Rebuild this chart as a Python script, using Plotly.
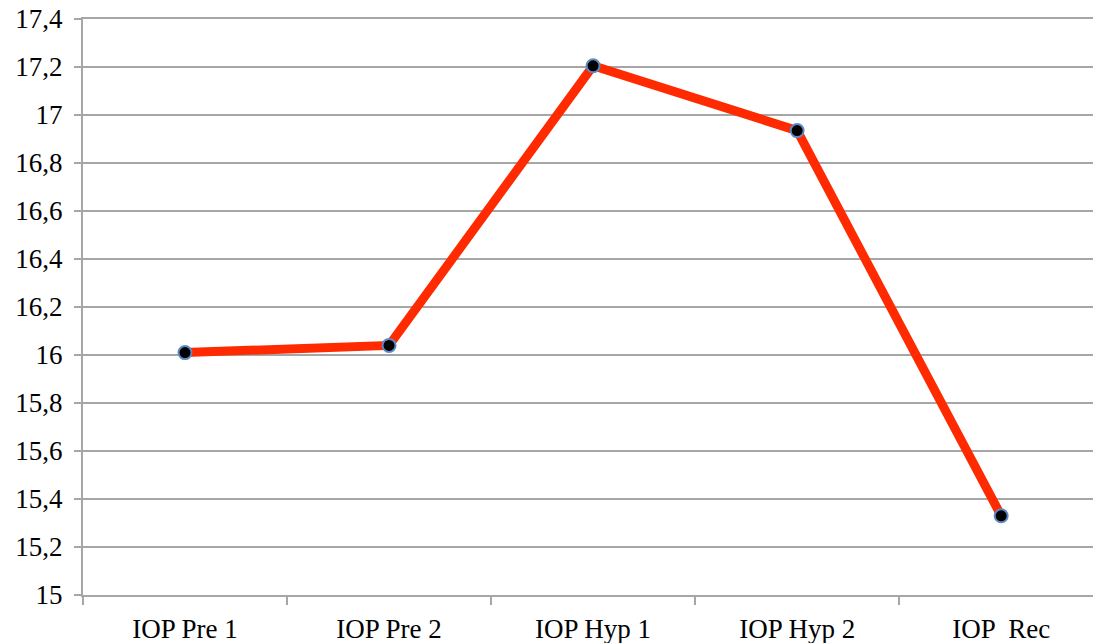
import plotly.graph_objects as go

categories = ["IOP Pre 1", "IOP Pre 2", "IOP Hyp 1", "IOP Hyp 2", "IOP  Rec"]
values = [16.01, 16.04, 17.205, 16.935, 15.33]
y_min, y_max, y_step = 15, 17.4, 0.2

fig = go.Figure()
fig.add_trace(go.Scatter(
    x=categories, y=values, mode="lines+markers",
    line=dict(color="#FF2A00", width=9),
    marker=dict(color="black", size=13, line=dict(color="#5B8BC5", width=2)),
    showlegend=False,
))

grid = "#A6A6A6"
fig.update_layout(
    width=1096, height=643,
    margin=dict(l=83, r=3, t=19, b=48),
    paper_bgcolor="white", plot_bgcolor="white",
    separators=", ",
    font=dict(family="Liberation Serif", size=27, color="black"),
    xaxis=dict(
        type="category", range=[-0.5, 4.45], automargin=False,
        tickson="boundaries", ticks="outside", ticklen=8, tickcolor=grid, tickwidth=2,
        showgrid=False, showline=True, linecolor=grid, linewidth=2, mirror=True,
        ticklabelstandoff=9,
    ),
    yaxis=dict(
        range=[y_min, y_max], tick0=y_min, dtick=y_step, tickformat=".1~f", automargin=False,
        ticks="outside", ticklen=7, tickcolor=grid, tickwidth=2,
        showgrid=True, gridcolor=grid, gridwidth=2,
        showline=True, linecolor=grid, linewidth=2,
        zeroline=False, ticklabelstandoff=6,
    ),
)
fig.write_html("out.html", config={"displayModeBar": False},
               post_script="document.body.style.margin='0';")
